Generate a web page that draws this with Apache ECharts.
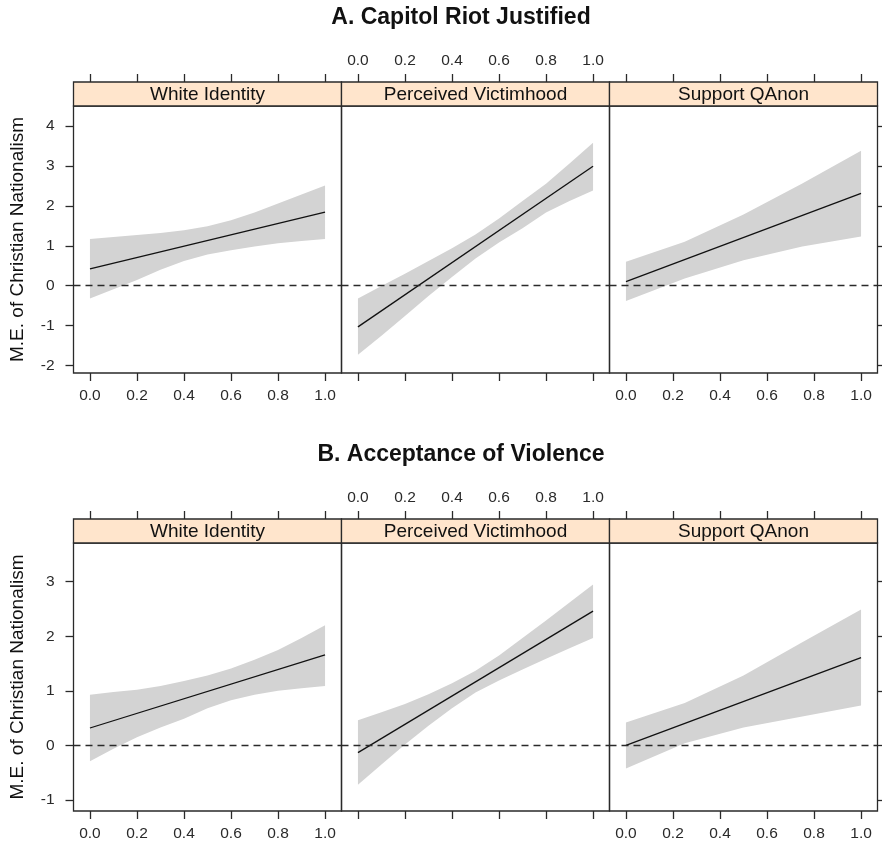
<!DOCTYPE html>
<html><head><meta charset="utf-8">
<script src="https://cdn.jsdelivr.net/npm/echarts@6/dist/echarts.min.js"></script>
<style>html,body{margin:0;padding:0;background:#fff}#c{width:882px;height:845px}</style>
</head><body><div id="c"></div>
<script>
// ---------- data ----------
const rowTitles = ['A. Capitol Riot Justified', 'B. Acceptance of Violence'];
const panelNames = ['White Identity', 'Perceived Victimhood', 'Support QAnon'];
const yAxisTitle = 'M.E. of Christian Nationalism';
const xTickValues = [0, 0.2, 0.4, 0.6, 0.8, 1.0];
const yTicksA = [-2, -1, 0, 1, 2, 3, 4];
const yTicksB = [-1, 0, 1, 2, 3];

const xFine = [0, 0.1, 0.2, 0.3, 0.4, 0.5, 0.6, 0.7, 0.8, 0.9, 1.0];
const xCoarse = [0, 0.25, 0.5, 0.75, 1.0];
const xLine = [0, 1];

// A. Capitol Riot Justified
const whiteA_est = [0.42, 1.84];
const whiteA_upper = [1.17, 1.22, 1.27, 1.32, 1.39, 1.49, 1.64, 1.83, 2.06, 2.28, 2.51];
const whiteA_lower = [-0.32, -0.09, 0.14, 0.40, 0.62, 0.78, 0.89, 0.98, 1.06, 1.12, 1.17];

const victimA_est = [-1.03, 2.99];
const victimA_upper = [-0.32, -0.01, 0.30, 0.62, 0.94, 1.28, 1.68, 2.12, 2.55, 3.06, 3.58];
const victimA_lower = [-1.73, -1.25, -0.76, -0.26, 0.22, 0.68, 1.08, 1.44, 1.83, 2.12, 2.38];

const qanonA_est = [0.10, 2.31];
const qanonA_upper = [0.60, 1.10, 1.78, 2.56, 3.38];
const qanonA_lower = [-0.38, 0.18, 0.64, 0.98, 1.23];

// B. Acceptance of Violence
const whiteB_est = [0.32, 1.66];
const whiteB_upper = [0.93, 0.98, 1.02, 1.09, 1.18, 1.28, 1.41, 1.57, 1.75, 1.97, 2.20];
const whiteB_lower = [-0.29, -0.06, 0.15, 0.33, 0.49, 0.68, 0.83, 0.93, 1.00, 1.05, 1.09];

const victimB_est = [-0.13, 2.46];
const victimB_upper = [0.46, 0.61, 0.76, 0.94, 1.14, 1.37, 1.65, 1.97, 2.29, 2.62, 2.95];
const victimB_lower = [-0.72, -0.35, 0.02, 0.36, 0.68, 0.97, 1.19, 1.39, 1.59, 1.78, 1.97];

const qanonB_est = [0.00, 1.61];
const qanonB_upper = [0.42, 0.78, 1.28, 1.89, 2.49];
const qanonB_lower = [-0.42, 0.04, 0.33, 0.53, 0.73];

// ---------- layout ----------
const FONT = 'Liberation Sans, Arial, Helvetica, sans-serif';
const INK = '#2a2a2a';
const panelLefts = [73.5, 341.5, 609.5];
const panelWidth = 268;
const rows = [
  { top: 106, height: 267, min: -2.185, max: 4.498, ticks: yTicksA, stripTop: 82,
    panels: [[xFine, whiteA_est, whiteA_lower, whiteA_upper],
             [xFine, victimA_est, victimA_lower, victimA_upper],
             [xCoarse, qanonA_est, qanonA_lower, qanonA_upper]] },
  { top: 543, height: 268, min: -1.20, max: 3.708, ticks: yTicksB, stripTop: 519,
    panels: [[xFine, whiteB_est, whiteB_lower, whiteB_upper],
             [xFine, victimB_est, victimB_lower, victimB_upper],
             [xCoarse, qanonB_est, qanonB_lower, qanonB_upper]] }
];
const stripH = 24;

const grid = [], xAxis = [], yAxis = [], series = [], graphic = [];
const tickLine = { color: INK, width: 1.3 };
const fmt1 = v => v.toFixed(1);
const noLine = { show: false, onZero: false };

function bandRender(xs, lo, hi) {
  return function (params, api) {
    if (params.dataIndex !== 0) return null;
    const pts = [];
    for (let k = 0; k < xs.length; k++) pts.push(api.coord([xs[k], hi[k]]));
    for (let k = xs.length - 1; k >= 0; k--) pts.push(api.coord([xs[k], lo[k]]));
    return { type: 'polygon', shape: { points: pts }, style: { fill: '#d3d3d3' } };
  };
}

rows.forEach((row, r) => {
  row.panels.forEach((p, c) => {
    const gi = r * 3 + c;
    grid.push({ left: panelLefts[c], top: row.top, width: panelWidth, height: row.height,
      show: true, borderColor: INK, borderWidth: 1.3, backgroundColor: 'transparent' });
    const baseX = { gridIndex: gi, type: 'value', min: -0.07, max: 1.07,
      axisLine: noLine, splitLine: { show: false } };
    xAxis.push(Object.assign({}, baseX, { position: 'bottom',
      axisTick: { show: true, inside: false, length: 8, customValues: xTickValues, lineStyle: tickLine },
      axisLabel: { show: c !== 1, customValues: xTickValues, formatter: fmt1, margin: 15,
        fontSize: 15.5, color: INK, fontFamily: FONT } }));
    xAxis.push(Object.assign({}, baseX, { position: 'top', offset: stripH,
      axisTick: { show: true, inside: false, length: 8, customValues: xTickValues, lineStyle: tickLine },
      axisLabel: { show: c === 1, customValues: xTickValues, formatter: fmt1, margin: 13,
        fontSize: 15.5, color: INK, fontFamily: FONT } }));
    const ya = { gridIndex: gi, type: 'value', min: row.min, max: row.max,
      axisLine: noLine, splitLine: { show: false } };
    if (c === 0) {
      Object.assign(ya, { position: 'left',
        axisTick: { show: true, inside: false, length: 8, customValues: row.ticks, lineStyle: tickLine },
        axisLabel: { show: true, customValues: row.ticks, margin: 19, fontSize: 15.5, color: INK, fontFamily: FONT } });
    } else if (c === 2) {
      Object.assign(ya, { position: 'right',
        axisTick: { show: true, inside: false, length: 8, customValues: row.ticks, lineStyle: tickLine },
        axisLabel: { show: false } });
    } else {
      Object.assign(ya, { axisTick: { show: false }, axisLabel: { show: false } });
    }
    yAxis.push(ya);

    const [xs, est, lo, hi] = p;
    series.push({ type: 'custom', xAxisIndex: gi * 2, yAxisIndex: gi, z: 1, silent: true,
      renderItem: bandRender(xs, lo, hi),
      data: xs.map((x, k) => [x, lo[k], hi[k]]), encode: { x: 0, y: [1, 2] } });
    series.push({ type: 'line', xAxisIndex: gi * 2, yAxisIndex: gi, z: 3, silent: true,
      data: xLine.map((x, k) => [x, est[k]]), showSymbol: false, symbol: 'none',
      lineStyle: { color: '#111', width: 1.3 },
      markLine: { silent: true, symbol: ['none', 'none'], label: { show: false },
        lineStyle: { color: INK, width: 1.3, type: [7, 5] }, data: [{ yAxis: 0 }] } });

    // strip
    graphic.push({ type: 'rect', shape: { x: panelLefts[c], y: row.stripTop, width: panelWidth, height: stripH },
      style: { fill: '#FFE5CC', stroke: INK, lineWidth: 1.3 }, z: 10 });
    graphic.push({ type: 'text', x: panelLefts[c] + panelWidth / 2, y: row.stripTop + stripH / 2 + 1,
      style: { text: panelNames[c], font: '19px ' + FONT, fill: '#111', align: 'center', verticalAlign: 'middle' }, z: 11 });
  });
  // row title
  graphic.push({ type: 'text', x: 461, y: r === 0 ? 18 : 454.5,
    style: { text: rowTitles[r], font: 'bold 23px ' + FONT, fill: '#111', align: 'center', verticalAlign: 'middle' } });
  // y axis title
  graphic.push({ type: 'text', x: 18, y: row.top + row.height / 2, rotation: Math.PI / 2,
    style: { text: yAxisTitle, font: '19px ' + FONT, fill: '#111', align: 'center', verticalAlign: 'middle' } });
});

const chart = echarts.init(document.getElementById('c'), null, { renderer: 'canvas' });
chart.setOption({ animation: false, backgroundColor: '#fff', grid, xAxis, yAxis, series, graphic });
</script>
</body></html>
